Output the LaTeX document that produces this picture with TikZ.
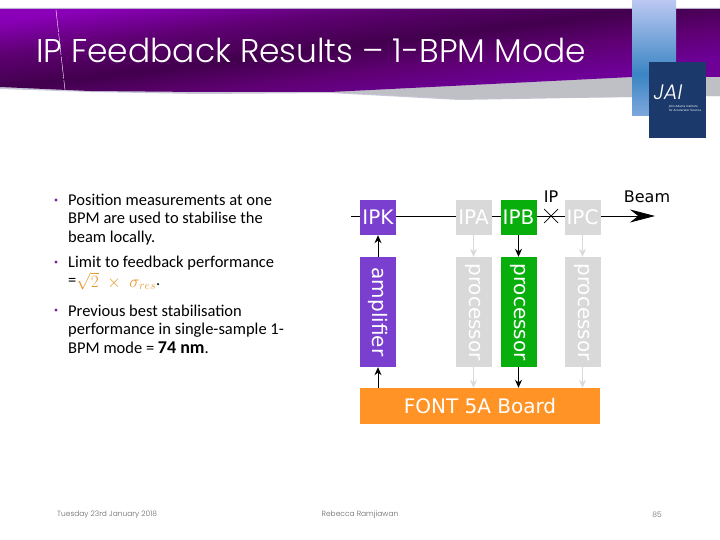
\documentclass[tikz,border=0pt]{standalone}
\usepackage{fontspec}
\setmainfont{Carlito}
\newfontfamily\titlefont{Poppins Light}
\newfontfamily\boxfont{DejaVu Sans}
\usetikzlibrary{arrows.meta}
\definecolor{ipkpurple}{HTML}{7B3FD0}
\definecolor{ipbgreen}{HTML}{08AE0C}
\definecolor{idlegrey}{HTML}{D9D9D9}
\definecolor{boardorange}{HTML}{FF9326}
\definecolor{mathorange}{HTML}{E8962E}
\definecolor{jainavy}{HTML}{1B3A6B}
\definecolor{bulletpurple}{HTML}{7A1FA0}
\definecolor{bannerbright}{HTML}{8A00B8}
\definecolor{bannermid}{HTML}{5E0072}
\definecolor{bannerdark}{HTML}{42004D}
\definecolor{bannerlow}{HTML}{6E0098}
\definecolor{stripblue}{HTML}{3A85C4}
\definecolor{striplow}{HTML}{7FA8DC}
\definecolor{striptop}{HTML}{BCC8F2}
\pgfdeclareverticalshading{bannershade}{100bp}{
  color(0bp)=(bannerlow);
  color(33bp)=(bannerlow);
  color(43bp)=(bannermid);
  color(52bp)=(bannerdark);
  color(63bp)=(bannermid);
  color(74bp)=(bannerbright);
  color(100bp)=(bannerbright)}
\pgfdeclareverticalshading{stripshade}{100bp}{
  color(0bp)=(striplow);
  color(25bp)=(striplow);
  color(43bp)=(stripblue);
  color(75bp)=(striptop);
  color(100bp)=(striptop)}
\tikzset{
  bar/.style={inner sep=0pt,font=\boxfont\fontsize{20}{20}\selectfont,text=white},
  bpmbox/.style={bar,minimum width=36pt,minimum height=35pt},
  longbox/.style={bar,rotate=-90,minimum width=110pt,minimum height=36pt},
  bullettext/.style={anchor=north west,align=left,inner sep=0pt,font=\fontsize{16.5}{18.2}\selectfont},
  footer/.style={text=black!60,font=\titlefont\fontsize{7.5}{9}\selectfont,inner sep=0pt},
  sig/.style={-{Stealth[length=8pt,width=7pt]},line width=1pt},
  idlesig/.style={sig,draw=idlegrey}
}
\begin{document}
\begin{tikzpicture}[x=1pt,y=-1pt]
  \useasboundingbox (0,0) rectangle (720,540);
  % header
  \fill[blue!30!black!22] (0,8) -- (720,8) -- (720,96) -- (632,97) -- (459,100) -- (330,93) -- (200,94) -- (90,92) -- (0,89) -- cycle;
  \fill[blue!10!black!25] (330,92) -- (632,77) -- (720,77) -- (720,96) -- (632,97) -- (459,99) -- cycle;
  \shade[shading=bannershade,shading angle=7] (0,9) -- (720,9) -- (720,77) -- (632,77) -- (330,92) -- (200,92) -- (90,91) -- (0,87) -- cycle;
  \draw[white,dash pattern=on 22pt off 1.5pt,line width=0.4pt] (56,10) -- (65,90);
  \shade[shading=stripshade] (632,0) rectangle (676,116);
  \node[fill=jainavy,minimum width=57pt,minimum height=76pt,inner sep=0pt] (logo) at (677.5,100) {};
  \node[text=white,font=\titlefont\itshape\fontsize{21}{21}\selectfont,inner sep=0pt] (jai) at (668,92) {JAI};
  \node[text=white,font=\boxfont\fontsize{2.8}{3.6}\selectfont,align=left,inner sep=0pt] (jaitext) at (685,108.5) {John Adams Institute\\for Accelerator Science};
  \node[anchor=west,text=white,inner sep=0pt,font=\titlefont\fontsize{32.9}{33}\selectfont] (title) at (36,50) {IP Feedback Results – 1-BPM Mode};
  % bullets
  \node[bullettext] (first) at (68,194) {Position measurements at one\\BPM are used to stabilise the\\beam locally.};
  \node[bullettext] (second) at (68,256) {Limit to feedback performance\\=\textcolor{mathorange}{\fontsize{18}{18.2}\selectfont\smash{\raisebox{-1.5pt}{$\sqrt{2}\;\times\;\sigma_{res}$}}}.};
  \node[bullettext] (third) at (68,305) {Previous best stabilisation\\performance in single-sample 1-\\BPM mode = {\bfseries\fontsize{18}{18}\selectfont 74 nm}.};
  \foreach \y in {200,262,310}
    \fill[bulletpurple] (56,\y) circle (1.7pt);
  % beam line
  \coordinate (beamin) at (351,216);
  \coordinate (beamout) at (655,216);
  \draw[-{Stealth[length=25pt,width=13pt]},line width=0.8pt] (beamin) -- (beamout);
  % monitors and kickers
  \node[bpmbox,fill=ipkpurple] (ipk) at (378,217.5) {IPK};
  \node[bpmbox,fill=idlegrey] (ipa) at (473.5,217.5) {IPA};
  \node[bpmbox,fill=ipbgreen] (ipb) at (518.5,217.5) {IPB};
  \node[bpmbox,fill=idlegrey] (ipc) at (582.5,217.5) {IPC};
  \node[longbox,fill=ipkpurple] (amplifier) at (378,312) {amplifier};
  \node[longbox,fill=idlegrey] (procA) at (473.5,312) {processor};
  \node[longbox,fill=ipbgreen] (procB) at (518.5,312) {processor};
  \node[longbox,fill=idlegrey] (procC) at (582.5,312) {processor};
  \node[fill=boardorange,minimum width=240pt,minimum height=36pt,inner sep=0pt,text=white,font=\boxfont\fontsize{20}{20}\selectfont] (board) at (480,406) {FONT 5A Board};
  % interaction point
  \coordinate (ipmark) at (551,216);
  \draw[line width=0.7pt] (544,209) -- (558,223) (544,223) -- (558,209);
  \node[font=\boxfont\fontsize{16}{16}\selectfont,inner sep=0pt] (iplabel) at (551,197) {IP};
  \node[font=\boxfont\fontsize{16}{16}\selectfont,inner sep=0pt] (beamlabel) at (647,197) {Beam};
  % signals
  \draw[sig] (amplifier.west) -- (ipk.south);
  \draw[sig] (board.north -| amplifier.east) -- (amplifier.east);
  \draw[idlesig] (ipa.south) -- (procA.west);
  \draw[idlesig] (ipc.south) -- (procC.west);
  \draw[sig] (ipb.south) -- (procB.west);
  \draw[idlesig] (procA.east) -- (board.north -| procA.east);
  \draw[idlesig] (procC.east) -- (board.north -| procC.east);
  \draw[sig] (procB.east) -- (board.north -| procB.east);
  % footer
  \node[footer,anchor=west] (date) at (57,515) {Tuesday 23rd January 2018};
  \node[footer] (author) at (360,515) {Rebecca Ramjiawan};
  \node[footer] (page) at (657,515) {85};
\end{tikzpicture}
\end{document}
